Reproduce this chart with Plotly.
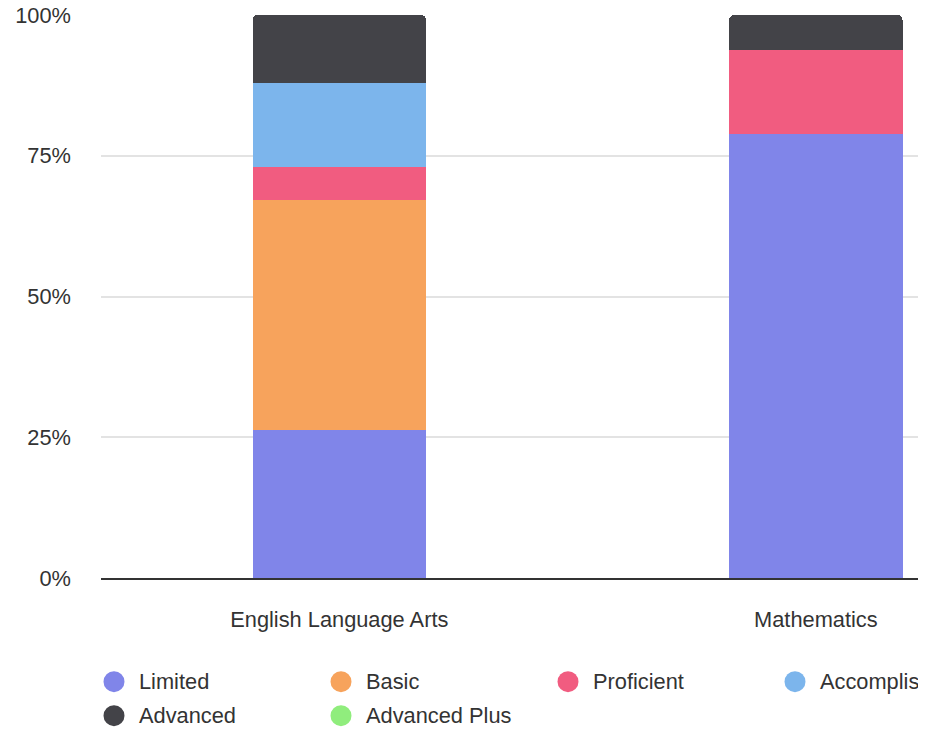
import plotly.graph_objects as go

categories = ["English Language Arts", "Mathematics"]
series_names = ["Limited", "Basic", "Proficient", "Accomplished", "Advanced", "Advanced Plus"]
limited = [26.2, 78.9]
basic = [40.9, 0]
proficient = [5.9, 14.8]
accomplished = [14.9, 0]
advanced = [12.1, 6.3]
advanced_plus = [0, 0]
series_values = [limited, basic, proficient, accomplished, advanced, advanced_plus]
colors = ["#8085e9", "#f7a35c", "#f15c80", "#7cb5ec", "#434348", "#90ed7d"]
y_ticks = [0, 25, 50, 75, 100]
y_ticktext = ["0%", "25%", "50%", "75%", "100%"]

W, H = 918, 730
ML, MR, MT, MB = 101, 0, 15, 152
PW, PH = W - ML - MR, H - MT - MB
FONT = "Liberation Sans, Arial, sans-serif"
TXT = "#333333"
FS = 21.8

fig = go.Figure()
for name, vals, col in zip(series_names, series_values, colors):
    fig.add_trace(go.Bar(x=categories, y=vals, name=name, marker_color=col,
                         marker_line_width=0, width=0.364, showlegend=False,
                         hoverinfo="x+y+name"))

# manual legend (clipped at the right edge like the original)
leg_x = [114, 341, 568, 795]
leg_y = [681.7, 715.7]
shapes = []
annotations = []
for i, (name, col) in enumerate(zip(series_names, colors)):
    cx = leg_x[i % 4]
    cy = leg_y[i // 4]
    px = (cx - ML) / PW
    py = (H - MB - cy) / PH
    shapes.append(dict(type="circle", xref="paper", yref="paper",
                       xsizemode="pixel", ysizemode="pixel",
                       xanchor=px, yanchor=py, x0=-10.5, x1=10.5, y0=-10.5, y1=10.5,
                       fillcolor=col, line_width=0))
    annotations.append(dict(text=name, xref="paper", yref="paper",
                            x=(cx + 23 - ML) / PW, y=py, xanchor="left", yanchor="middle",
                            showarrow=False, font=dict(size=FS, color=TXT, family=FONT)))

fig.update_layout(
    width=W, height=H,
    margin=dict(l=ML, r=MR, t=MT, b=MB, pad=0),
    barmode="stack", barnorm="percent", barcornerradius=5,
    plot_bgcolor="white", paper_bgcolor="white",
    font=dict(family=FONT, size=FS, color=TXT),
    shapes=shapes, annotations=annotations,
    showlegend=False,
)
fig.update_xaxes(range=[-0.5, 1.2144], showgrid=False, showline=True, linecolor="#333333",
                 linewidth=2, ticks="", ticklabelstandoff=21, zeroline=False,
                 tickfont=dict(size=FS, color=TXT, family=FONT))
fig.update_yaxes(range=[0, 100], tickvals=y_ticks, ticktext=y_ticktext, showgrid=True,
                 gridcolor="#e3e3e3", gridwidth=1.5, zeroline=False, showline=False,
                 ticks="", ticklabelstandoff=29, tickfont=dict(size=FS, color=TXT, family=FONT))

fig.write_html("out.html", config={"displayModeBar": False},
               post_script="document.body.style.margin='0';")
